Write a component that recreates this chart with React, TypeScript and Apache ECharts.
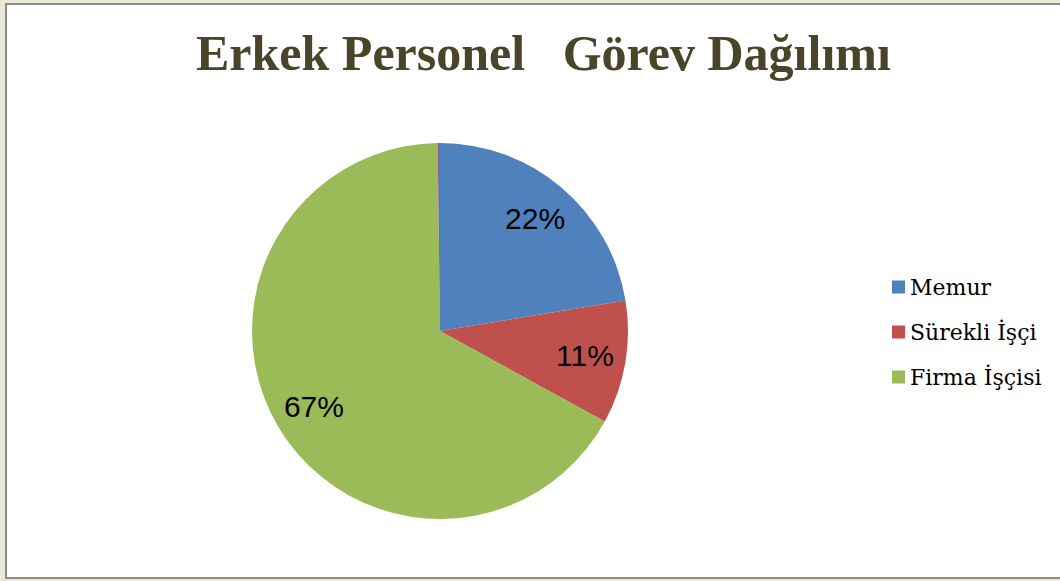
import React, { useEffect, useRef } from "react";
import * as echarts from "echarts";

const categories = ["Memur", "Sürekli İşçi", "Firma İşçisi", "Diğer"];
const values = [22.4, 10.6, 66.8, 0.2];
const legendNames = ["Memur", "Sürekli İşçi", "Firma İşçisi"];
const colors = ["#4F81BD", "#C0504D", "#9BBB59", "#8064A2"];
const titleText = "Erkek Personel   Görev Dağılımı";

export default function App() {
  const ref = useRef<HTMLDivElement>(null);
  useEffect(() => {
    if (!ref.current) return;
    const chart = echarts.init(ref.current, undefined, { renderer: "svg" });
    const data = categories.map((name, i) => ({
      name,
      value: values[i],
      itemStyle: { color: colors[i] },
    }));
    chart.setOption({
      animation: false,
      backgroundColor: "#ECE9D8",
      graphic: [
        {
          type: "rect",
          z: -10,
          shape: { x: 6, y: 4, width: 1070, height: 574 },
          style: { fill: "#ffffff", stroke: "#8c8c8c", lineWidth: 2 },
          silent: true,
        },
      ],
      title: {
        text: titleText,
        left: 191,
        top: 23,
        textStyle: {
          fontFamily: "Liberation Serif",
          fontWeight: "bold",
          fontSize: 50,
          color: "#4A442A",
        },
      },
      legend: {
        data: legendNames,
        orient: "vertical",
        left: 887,
        top: 271,
        itemWidth: 13,
        itemHeight: 13,
        itemGap: 23,
        icon: "rect",
        textStyle: {
          fontFamily: "DejaVu Serif",
          fontSize: 22,
          color: "#000000",
        },
      },
      series: [
        {
          type: "pie",
          center: [440, 331],
          radius: [0, 188],
          startAngle: 90,
          clockwise: true,
          label: { show: false },
          labelLine: { show: false },
          data,
        },
        {
          type: "pie",
          center: [440, 331],
          radius: [100, 188],
          startAngle: 90,
          clockwise: true,
          silent: true,
          itemStyle: { color: "rgba(0,0,0,0)" },
          label: {
            show: true,
            position: "inside",
            fontFamily: "Liberation Sans",
            fontSize: 30,
            color: "#000000",
            formatter: (p: any) =>
              p.name === "Diğer" ? "" : Math.round(p.percent) + "%",
          },
          labelLine: { show: false },
          data: categories.map((name, i) => ({
            name,
            value: values[i],
            itemStyle: { color: "rgba(0,0,0,0)" },
          })),
        },
      ],
    });
    return () => chart.dispose();
  }, []);
  return (
    <div
      ref={ref}
      style={{ position: "fixed", left: 0, top: 0, width: 1060, height: 581 }}
    />
  );
}
